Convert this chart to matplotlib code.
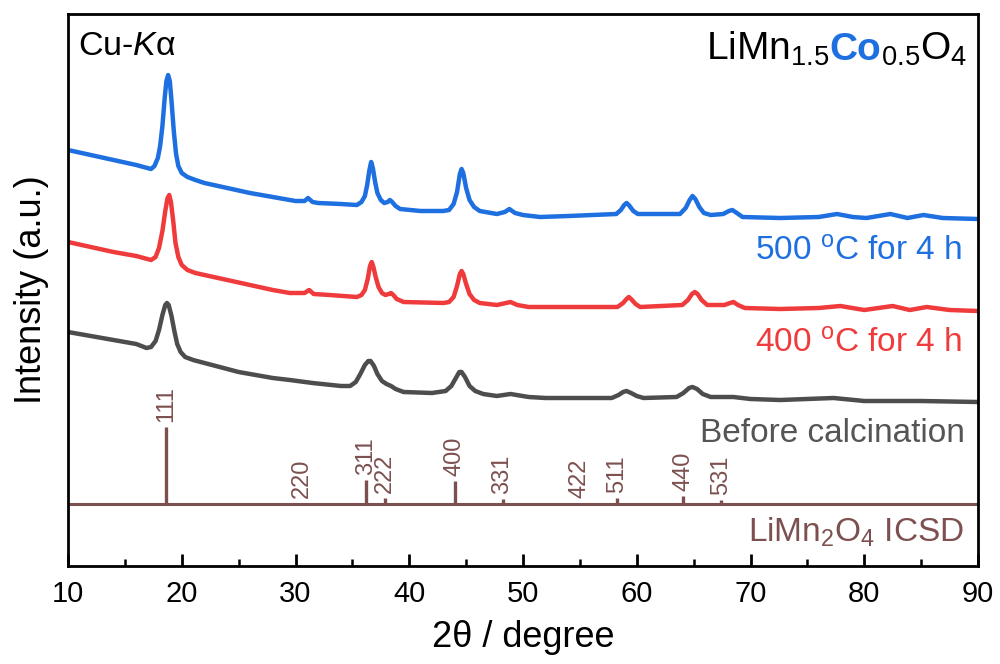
import numpy as np
import matplotlib
matplotlib.use('Agg')
import matplotlib.pyplot as plt

plt.rcParams['font.family'] = ['Liberation Sans', 'DejaVu Sans']
plt.rcParams['mathtext.fontset'] = 'custom'
plt.rcParams['mathtext.rm'] = 'Liberation Sans'
plt.rcParams['mathtext.it'] = 'Liberation Sans:italic'
plt.rcParams['mathtext.bf'] = 'Liberation Sans:bold'

# colours
c_blue = '#1E6FE0'
c_red = '#EF3B3B'
c_grey = '#4D4D4D'
c_brown = '#7D5050'

# 500 C for 4 h (arbitrary units)
blue_x = [10.0, 12.0, 14.0, 16.0, 17.3, 17.6, 17.9, 18.1, 18.3, 18.5, 18.65, 18.8, 18.95,
          19.1, 19.3, 19.5, 19.7, 20.0, 20.5, 21.2, 22.0, 24.0, 26.0, 28.0, 30.0, 30.8,
          31.1, 31.5, 32.0, 34.0, 35.4, 35.8, 36.1, 36.3, 36.5, 36.65, 36.8, 37.0, 37.2,
          37.5, 37.8, 38.1, 38.3, 38.5, 38.8, 39.2, 41.0, 43.0, 43.5, 43.9, 44.2, 44.45,
          44.6, 44.75, 45.0, 45.3, 45.7, 46.2, 47.7, 48.4, 48.8, 49.3, 50.0, 51.5, 54.0,
          58.2, 58.6, 58.9, 59.1, 59.3, 59.7, 60.1, 63.8, 64.3, 64.65, 64.9, 65.15, 65.5,
          65.9, 66.5, 67.6, 68.1, 68.4, 68.8, 69.3, 72.6, 76.0, 77.6, 79.0, 80.2, 82.3,
          83.8, 85.2, 86.9, 90.0]
blue_y = [416, 411, 406, 401, 397, 400, 408, 420, 440, 468, 485, 491, 485,
          465, 435, 412, 400, 393, 389, 386, 383, 378, 373, 369, 365, 365,
          368, 364, 363, 362, 361, 364, 370, 381, 396, 404, 398, 384, 373,
          366, 363, 364, 366, 364, 360, 357, 355, 355, 356, 362, 374, 392,
          397, 393, 378, 366, 359, 355, 352, 354, 357, 353, 351, 349, 350,
          352, 356, 361, 363, 361, 355, 352, 352, 358, 366, 370, 367, 359,
          353, 351, 352, 355, 356, 353, 349, 348, 349, 352, 349, 348, 352,
          348, 351, 348, 347]

# 400 C for 4 h
red_x = [10.0, 12.0, 14.0, 16.0, 17.3, 17.7, 18.0, 18.3, 18.55, 18.75, 18.9, 19.05, 19.25,
         19.45, 19.7, 20.0, 20.5, 21.2, 22.0, 24.0, 26.0, 28.0, 29.5, 30.8, 31.2, 31.6,
         33.0, 35.4, 35.8, 36.1, 36.35, 36.55, 36.7, 36.85, 37.05, 37.3, 37.6, 37.9, 38.2,
         38.4, 38.6, 38.9, 39.5, 43.0, 43.5, 43.9, 44.2, 44.45, 44.6, 44.75, 45.0, 45.3,
         45.7, 46.2, 47.7, 48.9, 49.5, 50.5, 58.3, 58.8, 59.1, 59.3, 59.5, 59.9, 60.3,
         64.0, 64.5, 64.85, 65.1, 65.35, 65.7, 66.2, 67.7, 68.2, 68.5, 68.9, 69.5, 72.6,
         76.0, 77.9, 80.0, 82.5, 84.0, 85.5, 87.5, 90.0]
red_y = [324, 319, 314, 310, 306, 309, 318, 335, 355, 368, 371, 364, 345,
         323, 309, 301, 296, 293, 291, 286, 281, 276, 273, 273, 276, 272,
         271, 269, 271, 276, 287, 300, 304, 299, 289, 279, 273, 271, 272,
         273, 271, 267, 264, 263, 264, 269, 280, 292, 295, 292, 282, 272,
         266, 263, 261, 264, 261, 259, 259, 263, 267, 269, 267, 262, 259,
         261, 266, 272, 274, 272, 266, 261, 261, 263, 264, 261, 258, 257,
         258, 260, 256, 260, 256, 259, 256, 255]

# before calcination
grey_x = [10.0, 12.0, 14.0, 16.0, 16.9, 17.3, 17.7, 18.0, 18.3, 18.55, 18.7, 18.85, 19.1,
          19.35, 19.6, 19.9, 20.3, 21.0, 22.0, 25.0, 28.0, 29.5, 31.5, 34.0, 34.8, 35.3,
          35.7, 36.1, 36.4, 36.6, 36.9, 37.2, 37.6, 38.0, 38.4, 38.8, 39.5, 42.0, 43.2,
          43.7, 44.1, 44.4, 44.6, 44.9, 45.3, 45.8, 46.5, 47.7, 48.9, 50.5, 52.0, 57.8,
          58.4, 58.8, 59.1, 59.5, 60.0, 60.6, 63.5, 64.1, 64.6, 64.9, 65.3, 65.8, 66.5,
          68.5, 70.0, 72.6, 77.3, 80.0, 85.0, 90.0]
grey_y = [234, 230, 226, 222, 218, 219, 225, 236, 251, 261, 263, 261, 250,
          235, 222, 214, 209, 206, 203, 194, 188, 186, 183, 180, 180, 184,
          192, 201, 205, 205, 200, 192, 185, 182, 180, 177, 174, 173, 175,
          180, 188, 194, 194, 189, 180, 175, 172, 170, 172, 169, 168, 168,
          171, 174, 175, 173, 170, 168, 169, 173, 178, 179, 177, 172, 169,
          169, 167, 166, 168, 165, 165, 164]

# LiMn2O4 ICSD reference
icsd_base = 62
icsd_pos = [18.6, 30.6, 36.2, 37.9, 44.0, 48.2, 55.0, 58.3, 64.1, 67.4, 75.8, 76.7, 81.0, 84.0]
icsd_top = [139, 63, 86, 68, 85, 67, 63, 68, 70, 66, 63, 63, 63, 63]
hkl_labels = ['111', '220', '311', '222', '400', '331', '422', '511', '440', '531']

fig = plt.figure(figsize=(10, 6.64), dpi=100)
ax = fig.add_axes([0.068, 0.1476, 0.910, 0.8313])

for xs, ys, col in [(blue_x, blue_y, c_blue), (red_x, red_y, c_red), (grey_x, grey_y, c_grey)]:
    ax.plot(xs, ys, color=col, lw=3.2, solid_joinstyle='round', solid_capstyle='round')

ax.axhline(icsd_base, color=c_brown, lw=2.2)
ax.vlines(icsd_pos, icsd_base, icsd_top, color=c_brown, lw=2.4)
for pos, top, lab in zip(icsd_pos, icsd_top, hkl_labels):
    ax.text(pos, top + 5, lab, rotation=90, ha='center', va='bottom',
            fontsize=17, color=c_brown)

ax.set_xlim(10, 90)
ax.set_ylim(0, 552)
ax.set_yticks([])
ax.set_xticks(range(10, 91, 10))
ax.set_xticks(range(15, 90, 10), minor=True)
ax.tick_params(axis='x', which='major', direction='in', length=9, width=2,
               labelsize=21, pad=10, top=False)
ax.tick_params(axis='x', which='minor', direction='in', length=5, width=1.8, top=False)
for sp in ax.spines.values():
    sp.set_linewidth(2)

ax.set_xlabel('2θ / degree', fontsize=26, labelpad=9)
ax.set_ylabel('Intensity (a.u.)', fontsize=26, labelpad=14)

# labels
ax.text(0.011, 0.926, r'Cu-$\mathit{K}$α', transform=ax.transAxes, fontsize=24.5,
        ha='left', va='baseline')
ax.text(0.9824, 0.5525, r'500 $^{\mathrm{o}}$C for 4 h', transform=ax.transAxes,
        fontsize=24, color=c_blue, ha='right', va='baseline')
ax.text(0.9824, 0.386, r'400 $^{\mathrm{o}}$C for 4 h', transform=ax.transAxes,
        fontsize=24, color=c_red, ha='right', va='baseline')
ax.text(0.986, 0.2246, 'Before calcination', transform=ax.transAxes,
        fontsize=24, color='#555555', ha='right', va='baseline')
ax.text(0.985, 0.0435, r'LiMn$_{2}$O$_{4}$ ICSD', transform=ax.transAxes,
        fontsize=24, color=c_brown, ha='right', va='baseline')

# formula in pieces: black / bold blue / black, laid right to left
fig.canvas.draw()
inv = ax.transAxes.inverted()
x_right, y_base = 0.988, 0.917
pieces = [(r'$_{0.5}$O$_{4}$', 'black', 'normal'),
          ('Co', c_blue, 'bold'),
          (r'LiMn$_{1.5}$', 'black', 'normal')]
for txt, col, wt in pieces:
    t = ax.text(x_right, y_base, txt, transform=ax.transAxes, fontsize=28,
                color=col, fontweight=wt, ha='right', va='baseline')
    fig.canvas.draw()
    bb = t.get_window_extent()
    x_right = inv.transform((bb.x0, bb.y0))[0]

fig.savefig('out.png', dpi=100)
